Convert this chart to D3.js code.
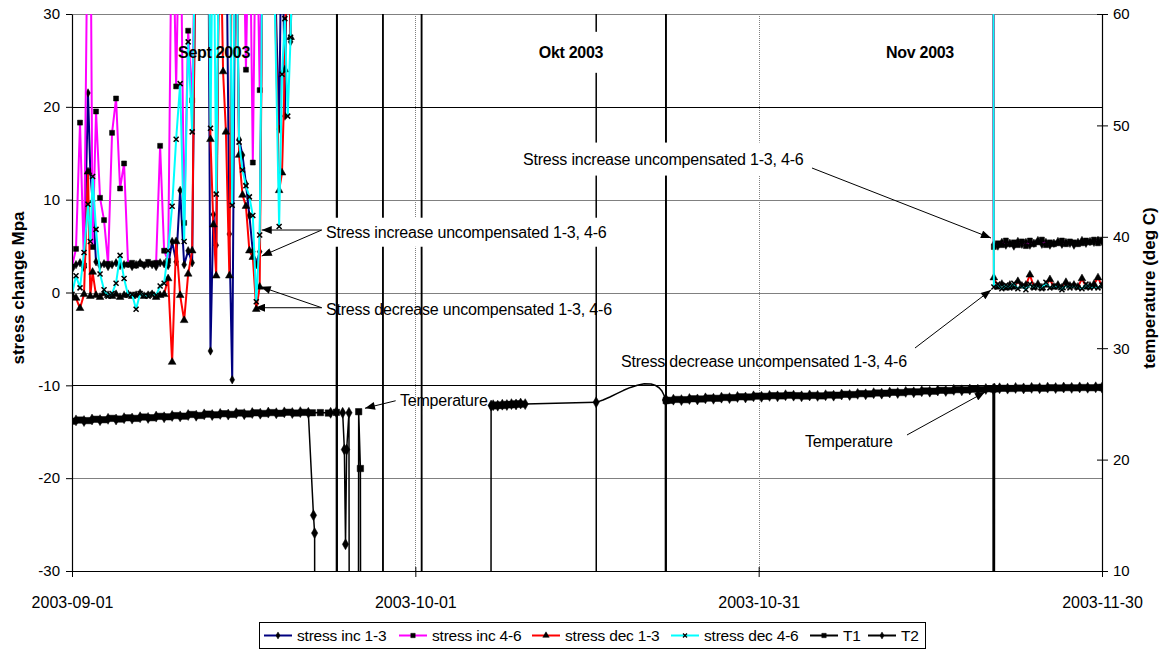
<!DOCTYPE html>
<html lang="en">
<head>
<meta charset="UTF-8">
<title>Stress change and temperature, Sept - Nov 2003</title>
<script src="https://cdn.jsdelivr.net/npm/d3@7"></script>
<style>
  body { margin: 0; background: #fff; }
  svg { font-family: "Liberation Sans", Arial, sans-serif; }
</style>
</head>
<body>
<svg id="chart" width="1163" height="652"></svg>
<script>
// ---- data (days after 2003-09-01, stress in MPa, temperature in deg C) ----
const dateTicks = ["2003-09-01", "2003-10-01", "2003-10-31", "2003-11-30"];
const stressTicks = [-30, -20, -10, 0, 10, 20, 30];
const tempTicks = [10, 20, 30, 40, 50, 60];

// stress gauges, september part (45 = off the top of the scale)
const sepDays = [0.00, 0.35, 0.70, 1.05, 1.40, 1.60, 1.80, 2.10, 2.45, 2.80, 3.15, 3.50, 3.85, 4.20, 4.55, 4.90,
  5.25, 5.60, 5.95, 6.30, 6.65, 7.00, 7.35, 7.70, 8.05, 8.40, 8.75, 9.10, 9.45, 9.80, 10.15, 10.50,
  10.85, 11.20, 11.55, 11.90, 12.10, 12.35, 12.60, 12.90, 13.20, 13.45, 13.75, 14.00, 14.30, 14.60,
  14.90, 15.20, 15.50, 15.80, 16.10, 16.40, 16.70, 17.50, 18.10, 18.35, 18.60, 18.85, 19.10, 19.40,
  50.00, 80.50];
const inc13Sep = [2.5, 3.0, 3.2, 2.7, 21.5, 13.0, 9.8, 3.3, 2.9, 3.1, 2.8, 3.0, 3.2, 2.9, 3.0, 3.1,
  2.8, 3.0, 3.2, 2.9, 3.1, 3.0, 2.8, 3.2, 3.1, 2.9, 5.5, 3.3, 11.0, 3.0, 4.5, 3.2,
  45, 45, 45, 45, -6.3, 8.4, 5.1, 45, 45, 45, 6.3, -9.4, 45, 16.5,
  14.8, 11.7, 8.3, 4.4, 3.0, 4.4, 45, 45, 17.6, 45, 19.0, 45, 27.0, 45,
  45, 45];
const inc46Sep = [2.8, 4.7, 18.3, 2.9, 45, 45, 4.9, 19.5, 10.2, 7.8, 3.1, 17.2, 20.9, 11.2, 13.9, 3.0,
  3.2, 2.9, 3.1, 3.0, 3.3, 3.1, 3.2, 15.8, 4.5, 3.4, 45, 22.2, 45, 7.5, 28.2, 20.7,
  45, 45, 45, 45, 45, 45, 45, 45, 45, 45, 45, 45, 45, 45,
  45, 24.0, 45, 14.0, 45, 21.8, 45, 45, 45, 45, 45, 45, 45, 45,
  45, 45];
const dec13Sep = [-0.3, -0.6, -1.7, -0.2, 13.0, -0.4, 2.2, -0.3, -0.5, -0.1, -0.3, -0.4, -0.2, -0.5, -0.3, -0.2,
  -0.4, -0.3, -0.1, -0.4, -0.3, -0.2, -0.5, -0.3, -0.2, 1.5, -7.5, 5.5, -0.3, -3.0, 2.0, 4.5,
  45, 45, 45, 45, 16.5, 7.3, 1.8, 45, 23.8, 17.3, 1.8, 45, 45, 14.8,
  10.5, 9.3, 4.5, 3.8, -1.8, 0.6, 45, 45, 11.0, 12.9, 24.0, 45, 27.5, 45,
  45, 45];
const dec46Sep = [-0.2, 1.8, 0.5, 4.3, 9.5, 5.5, 12.5, 6.8, 2.0, 0.3, -0.4, -0.1, 1.0, 4.0, 1.5, -0.3,
  -0.2, -1.8, -0.1, -0.3, -0.4, -0.2, -0.3, 0.7, 1.0, 4.5, 9.3, 16.5, 22.5, 5.5, 27.0, 17.3,
  45, 45, 45, 45, 17.7, 45, 10.6, 45, 45, 45, 45, 9.4, 45, 16.2,
  13.2, 11.5, 10.3, 8.3, -1.0, 6.2, 45, 45, 7.1, 23.5, 29.5, 19.0, 27.5, 45,
  45, 45];

// stress gauges, november part
const novDays = [80.55, 80.90, 81.25, 81.60, 81.95, 82.30, 82.65, 83.00, 83.35, 83.70, 84.05, 84.40, 84.75, 85.10,
  85.45, 85.80, 86.15, 86.50, 86.85, 87.20, 87.55, 87.90, 88.25, 88.60, 88.95, 89.30, 89.65, 90.00];
const inc13Nov = [5.2, 5.0, 5.4, 5.1, 5.3, 5.0, 5.5, 5.2, 5.4, 5.1, 5.3, 5.6, 5.2, 5.4,
  5.1, 5.3, 5.5, 5.2, 5.4, 5.3, 5.1, 5.4, 5.6, 5.3, 5.5, 5.4, 5.6, 5.5];
const inc46Nov = [4.9, 5.3, 5.1, 5.6, 5.2, 5.4, 5.1, 5.5, 5.0, 5.6, 5.2, 5.4, 5.7, 5.1,
  5.4, 5.2, 5.3, 5.6, 5.2, 5.5, 5.4, 5.2, 5.3, 5.6, 5.4, 5.7, 5.3, 5.6];
const dec13Nov = [1.6, 0.6, 0.9, 0.5, 0.8, 0.6, 1.2, 0.7, 0.8, 1.9, 0.6, 0.9, 0.5, 0.8,
  1.4, 0.6, 0.8, 0.5, 1.1, 0.7, 0.8, 0.6, 1.5, 0.6, 0.7, 0.9, 1.6, 0.7];
const dec46Nov = [0.6, 0.9, 0.4, 0.8, 0.5, 1.0, 0.4, 0.7, 0.3, 0.9, 0.5, 0.7, 0.4, 1.1,
  0.5, 0.7, 0.6, 0.3, 0.8, 0.5, 0.7, 0.5, 0.4, 0.9, 0.5, 0.6, 0.5, 0.8];

// temperature, continuous stretches (T2 logged half a step after T1)
const t1ADays = [0.0, 0.7, 1.4, 2.1, 2.8, 3.5, 4.2, 4.9, 5.6, 6.3, 7.0, 7.7, 8.4, 9.1, 9.8, 10.5,
  11.2, 11.9, 12.6, 13.3, 14.0, 14.7, 15.4, 16.1, 16.8, 17.5, 18.2, 18.9, 19.6, 20.3, 21.0];
const t1BandA = [23.45, 23.55, 23.50, 23.62, 23.58, 23.70, 23.64, 23.75, 23.70, 23.82, 23.76, 23.88, 23.84, 23.95, 23.90, 24.05,
  23.96, 24.08, 24.02, 24.12, 24.06, 24.18, 24.10, 24.20, 24.14, 24.22, 24.16, 24.25, 24.18, 24.24, 24.20];
const t2ADays = [0.35, 1.05, 1.75, 2.45, 3.15, 3.85, 4.55, 5.25, 5.95, 6.65, 7.35, 8.05, 8.75, 9.45, 10.15,
  10.85, 11.55, 12.25, 12.95, 13.65, 14.35, 15.05, 15.75, 16.45, 17.15, 17.85, 18.55, 19.25, 19.95, 20.65];
const t2BandA = [23.52, 23.46, 23.60, 23.54, 23.66, 23.60, 23.72, 23.68, 23.80, 23.74, 23.86, 23.80, 23.92, 23.88, 24.00,
  23.94, 24.06, 24.00, 24.10, 24.04, 24.16, 24.08, 24.18, 24.12, 24.22, 24.16, 24.24, 24.18, 24.26, 24.20];
const bandBDays = [36.8, 37.2, 37.6, 38.0, 38.4, 38.8, 39.2];
const t1BandB = [24.82, 24.90, 24.86, 24.95, 24.92, 25.00, 24.98];
const t2BandB = [24.88, 24.84, 24.93, 24.90, 24.98, 24.95, 25.03];
const t1CDays = [52.2, 52.9, 53.6, 54.3, 55.0, 55.7, 56.4, 57.1, 57.8, 58.5, 59.2, 59.9, 60.6, 61.3,
  62.0, 62.7, 63.4, 64.1, 64.8, 65.5, 66.2, 66.9, 67.6, 68.3, 69.0, 69.7, 70.4, 71.1, 71.8, 72.5,
  73.2, 73.9, 74.6, 75.3, 76.0, 76.7, 77.4, 78.1, 78.8, 79.5, 80.2];
const t1BandC = [25.32, 25.40, 25.38, 25.46, 25.44, 25.52, 25.50, 25.58, 25.56, 25.64, 25.62, 25.70, 25.68, 25.74,
  25.72, 25.78, 25.74, 25.70, 25.76, 25.72, 25.80, 25.78, 25.86, 25.84, 25.92, 25.90, 25.98, 25.96, 26.04, 26.02,
  26.10, 26.08, 26.16, 26.14, 26.22, 26.20, 26.28, 26.26, 26.32, 26.30, 26.36];
const t2CDays = [52.55, 53.25, 53.95, 54.65, 55.35, 56.05, 56.75, 57.45, 58.15, 58.85, 59.55, 60.25, 60.95, 61.65,
  62.35, 63.05, 63.75, 64.45, 65.15, 65.85, 66.55, 67.25, 67.95, 68.65, 69.35, 70.05, 70.75, 71.45, 72.15, 72.85,
  73.55, 74.25, 74.95, 75.65, 76.35, 77.05, 77.75, 78.45, 79.15, 79.85];
const t2BandC = [25.38, 25.34, 25.44, 25.40, 25.50, 25.46, 25.56, 25.52, 25.62, 25.58, 25.68, 25.64, 25.72, 25.68,
  25.78, 25.74, 25.68, 25.76, 25.72, 25.78, 25.74, 25.84, 25.80, 25.90, 25.86, 25.96, 25.92, 26.02, 25.98, 26.08,
  26.04, 26.14, 26.10, 26.20, 26.16, 26.26, 26.22, 26.30, 26.28, 26.34];
const t1DDays = [80.7, 81.4, 82.1, 82.8, 83.5, 84.2, 84.9, 85.6, 86.3, 87.0, 87.7, 88.4, 89.1, 89.8, 90.0];
const t1BandD = [26.36, 26.40, 26.38, 26.42, 26.40, 26.44, 26.41, 26.45, 26.43, 26.46, 26.44, 26.47, 26.45, 26.48, 26.47];
const t2DDays = [81.05, 81.75, 82.45, 83.15, 83.85, 84.55, 85.25, 85.95, 86.65, 87.35, 88.05, 88.75, 89.45, 90.0];
const t2BandD = [26.40, 26.37, 26.43, 26.39, 26.44, 26.41, 26.46, 26.42, 26.47, 26.44, 26.48, 26.45, 26.49, 26.46];

// temperature, dropouts (+-100 = sensor off scale, null = no reading)
const t1GapDays = [21.7, 22.4, 23.1, 23.16, 23.17, 23.18, 24.9, 25.05, 25.2, 25.35, 25.4, 27.16, 27.18, 27.2, 30.54, 30.56, 30.58];
const t1GapTemp = [24.22, 24.18, 24.24, 100, -100, null, -100, 24.3, 19.2, -100, null, 100, -100, null, 100, -100, null];
const t1MidDays = [39.3, 45.8, 45.82, 45.84, 51.88, 51.9, 51.92];
const t1MidTemp = [null, 100, -100, null, 100, -100, 25.3];
const t1DropDays = [80.5, 80.55, 80.6];
const t1DropTemp = [26.35, -100, 26.36];

const t2GapDays = [21.1, 21.2, 21.3, 21.35, 22.6, 23.1, 23.16, 23.17, 23.18, 23.65, 23.8, 23.9, 24.0, 24.2, 24.35, 24.4,
  27.16, 27.18, 27.2, 30.54, 30.56, 30.58, 36.58, 36.62];
const t2GapTemp = [15.0, 13.4, -100, null, 24.2, 24.26, -100, 100, null, 24.2, 20.9, 12.4, 20.9, 24.2, -100, null,
  100, -100, null, 100, -100, null, -100, 24.85];
const t2MidDays = [39.6, 45.8, 51.85, 51.88, 51.9, 51.92];
const t2MidTemp = [24.98, 25.14, 25.35, -100, 100, 25.35];
// smoothed stretch of T2 in early October (drawn without markers)
const t2CurveDays = [46.4, 47.0, 47.6, 48.2, 48.8, 49.4, 50.0, 50.6, 51.0, 51.3, 51.55, 51.72];
const t2CurveTemp = [25.35, 25.62, 25.92, 26.22, 26.48, 26.68, 26.8, 26.78, 26.65, 26.45, 26.15, 25.8];
const t2DropDays = [80.5, 80.55, 80.6];
const t2DropTemp = [26.33, -100, 26.38];

// ---- setup ----
const START = new Date(2003, 8, 1);
const END = new Date(2003, 10, 30);
const atDay = d => new Date(START.getTime() + d * 864e5);
const parse = d3.timeParse("%Y-%m-%d");

const x = d3.scaleTime().domain([START, END]).range([72, 1102]);
const yL = d3.scaleLinear().domain([-30, 30]).range([571, 14]);
const yR = d3.scaleLinear().domain([10, 60]).range([571, 14]);

const svg = d3.select("#chart");
const defs = svg.append("defs");
defs.append("clipPath").attr("id", "plotClip").append("rect")
  .attr("x", 72).attr("y", 14).attr("width", 1030).attr("height", 557);
defs.append("marker").attr("id", "arrowHead")
  .attr("viewBox", "0 0 10 8").attr("refX", 10).attr("refY", 4)
  .attr("markerWidth", 11).attr("markerHeight", 8)
  .attr("markerUnits", "userSpaceOnUse").attr("orient", "auto")
  .append("path").attr("d", "M0,0L10,4L0,8Z").attr("fill", "#000");

const crisp = v => Math.round(v) + 0.5;

// horizontal grid
const gridColor = { "30": "#808080", "20": "#000", "10": "#808080", "0": "#808080", "-10": "#000", "-20": "#808080" };
svg.append("g").selectAll("line")
  .data(stressTicks.filter(v => v > -30))
  .join("line")
  .attr("x1", 72).attr("x2", 1102)
  .attr("y1", d => crisp(yL(d))).attr("y2", d => crisp(yL(d)))
  .attr("stroke", d => gridColor[String(d)]).attr("stroke-width", 1);

// dotted vertical grid at the inner date ticks
svg.append("g").selectAll("line")
  .data(dateTicks.slice(1, 3).map(parse))
  .join("line")
  .attr("x1", d => crisp(x(d))).attr("x2", d => crisp(x(d)))
  .attr("y1", 14).attr("y2", 571)
  .attr("stroke", "#808080").attr("stroke-dasharray", "1,1");

// ---- series ----
function pts(days, vals, noMarker) {
  return days.map((d, i) => ({ t: atDay(d), v: vals[i], noMarker: !!noMarker }));
}
function symbolPath(shape, s) {
  if (shape === "x") return `M${-s},${-s}L${s},${s}M${-s},${s}L${s},${-s}`;
  if (shape === "square") return d3.symbol(d3.symbolSquare, s * s * 4)();
  if (shape === "diamond") return d3.symbol(d3.symbolDiamond, s * s * 3)();
  return d3.symbol(d3.symbolTriangle, s * s * 3.6)();
}

const stressDays = sepDays.concat(novDays);
const series = [
  { name: "stress inc 1-3", color: "#000080", width: 2, shape: "diamond", ms: 2.6, y: yL,
    data: pts(stressDays, inc13Sep.concat(inc13Nov)) },
  { name: "stress inc 4-6", color: "#ff00ff", width: 2, shape: "square", ms: 2.5, y: yL,
    data: pts(stressDays, inc46Sep.concat(inc46Nov)) },
  { name: "stress dec 1-3", color: "#ff0000", width: 2, shape: "triangle", ms: 2.7, y: yL,
    data: pts(stressDays, dec13Sep.concat(dec13Nov)) },
  { name: "stress dec 4-6", color: "#00ffff", width: 2, shape: "x", ms: 2.5, y: yL,
    data: pts(stressDays, dec46Sep.concat(dec46Nov)) },
  { name: "T1", color: "#000", width: 1.5, shape: "square", ms: 3.2, y: yR,
    data: [].concat(pts(t1ADays, t1BandA), pts(t1GapDays, t1GapTemp), pts(bandBDays, t1BandB),
      pts(t1MidDays, t1MidTemp), pts(t1CDays, t1BandC), pts(t1DropDays, t1DropTemp), pts(t1DDays, t1BandD)) },
  { name: "T2", color: "#000", width: 1.5, shape: "diamond", ms: 3.4, y: yR,
    data: d3.sort([].concat(pts(t2ADays, t2BandA), pts(t2GapDays, t2GapTemp), pts(bandBDays, t2BandB),
      pts(t2MidDays, t2MidTemp), pts(t2CurveDays, t2CurveTemp, true), pts(t2CDays, t2BandC),
      pts(t2DropDays, t2DropTemp), pts(t2DDays, t2BandD)), d => d.t) }
];

const plotG = svg.append("g").attr("clip-path", "url(#plotClip)");
series.forEach(s => {
  const line = d3.line()
    .defined(d => d.v !== null)
    .x(d => x(d.t))
    .y(d => s.y(d.v));
  plotG.append("path")
    .datum(s.data)
    .attr("d", line)
    .attr("fill", "none")
    .attr("stroke", s.color)
    .attr("stroke-width", s.width)
    .attr("stroke-linejoin", "round");
  const [lo, hi] = s.y.domain();
  plotG.append("g").selectAll("path")
    .data(s.data.filter(d => d.v !== null && !d.noMarker && d.v >= lo - 1 && d.v <= hi + 1))
    .join("path")
    .attr("transform", d => `translate(${x(d.t)},${s.y(d.v)})`)
    .attr("d", symbolPath(s.shape, s.ms))
    .attr("fill", s.shape === "x" ? "none" : "#000")
    .attr("stroke", "#000")
    .attr("stroke-width", s.shape === "x" ? 1.5 : 0.5);
});

// ---- annotations (positions in day / stress units) ----
const notes = [
  { text: "Sept 2003", day: 12.41, v: 25.9, bold: true, anchor: "middle" },
  { text: "Okt 2003", day: 43.6, v: 25.9, bold: true, anchor: "middle", pad: [10, 12] },
  { text: "Nov 2003", day: 74.1, v: 25.9, bold: true, anchor: "middle", pad: [10, 12] },
  { text: "Stress increase uncompensated 1-3, 4-6", day: 22.19, v: 6.52, pad: [4, 6] },
  { text: "Stress decrease uncompensated 1-3, 4-6", day: 22.19, v: -1.78 },
  { text: "Temperature", day: 28.66, v: -11.58 },
  { text: "Stress increase uncompensated 1-3, 4-6", day: 39.41, v: 14.4, pad: [5, 8] },
  { text: "Stress decrease uncompensated 1-3, 4-6", day: 47.97, v: -7.45 },
  { text: "Temperature", day: 64.05, v: -16.07 }
];
const arrows = [
  [21.82, 6.73, 16.58, 6.73], [21.82, 6.73, 16.58, 3.93],
  [21.82, -1.64, 16.49, 0.62], [21.82, -1.64, 15.99, -1.64],
  [28.28, -11.66, 25.6, -12.47],
  [64.66, 13.41, 80.3, 5.87],
  [73.66, -5.98, 80.3, 0.27],
  [72.96, -15.35, 79.78, -10.72]
];

const noteG = svg.append("g");
notes.forEach(n => {
  const g = noteG.append("g");
  const t = g.append("text")
    .attr("x", x(atDay(n.day)))
    .attr("y", yL(n.v))
    .attr("dy", "0.36em")
    .attr("text-anchor", n.anchor || "start")
    .attr("font-size", 16)
    .attr("font-weight", n.bold ? "bold" : "normal")
    .attr("letter-spacing", n.bold ? -0.3 : -0.2)
    .attr("fill", "#000")
    .text(n.text);
  if (n.pad) {
    const b = t.node().getBBox();
    g.insert("rect", "text")
      .attr("x", b.x - n.pad[0]).attr("y", b.y - n.pad[1])
      .attr("width", b.width + 2 * n.pad[0]).attr("height", b.height + 2 * n.pad[1])
      .attr("fill", "#fff");
  }
});
noteG.selectAll("line.arrow")
  .data(arrows)
  .join("line")
  .attr("class", "arrow")
  .attr("x1", d => x(atDay(d[0]))).attr("y1", d => yL(d[1]))
  .attr("x2", d => x(atDay(d[2]))).attr("y2", d => yL(d[3]))
  .attr("stroke", "#000").attr("stroke-width", 1)
  .attr("marker-end", "url(#arrowHead)");

// ---- axes ----
const axL = svg.append("g").attr("transform", "translate(72,0)")
  .call(d3.axisLeft(yL).tickValues(stressTicks).tickFormat(d => String(d)).tickSize(6).tickSizeOuter(0).tickPadding(6));
const axR = svg.append("g").attr("transform", "translate(1102,0)")
  .call(d3.axisRight(yR).tickValues(tempTicks).tickFormat(d => String(d)).tickSize(6).tickSizeOuter(0).tickPadding(5));
axR.selectAll(".tick line").attr("x1", -5);
const axB = svg.append("g").attr("transform", "translate(0,571)")
  .call(d3.axisBottom(x).tickValues(dateTicks.map(parse)).tickFormat(d3.timeFormat("%Y-%m-%d"))
    .tickSize(6).tickSizeOuter(0).tickPadding(20));
axB.selectAll(".tick line").attr("y1", -4);
[axL, axR, axB].forEach(a => {
  a.attr("font-family", null).attr("font-size", 15);
  a.select(".domain").attr("stroke", "#000").attr("stroke-width", 1.2);
  a.selectAll(".tick line").attr("stroke", "#000");
  a.selectAll(".tick text").attr("fill", "#000");
});
axB.attr("font-size", 16);

// axis titles
svg.append("text")
  .attr("transform", "translate(18,288) rotate(-90)")
  .attr("text-anchor", "middle").attr("dy", "0.36em")
  .attr("font-size", 17).attr("font-weight", "bold")
  .text("stress change Mpa");
svg.append("text")
  .attr("transform", "translate(1149,288) rotate(-90)")
  .attr("text-anchor", "middle").attr("dy", "0.36em")
  .attr("font-size", 17).attr("font-weight", "bold")
  .text("temperature (deg C)");

// ---- legend ----
const legendX = [264, 399, 532, 671, 810, 868];
const legend = svg.append("g");
legend.append("rect")
  .attr("x", 259.5).attr("y", 622.5).attr("width", 666).attr("height", 26)
  .attr("fill", "#fff").attr("stroke", "#000");
series.forEach((s, i) => {
  const lx = legendX[i];
  legend.append("line")
    .attr("x1", lx).attr("x2", lx + 28).attr("y1", 635.5).attr("y2", 635.5)
    .attr("stroke", s.color).attr("stroke-width", 2);
  legend.append("path")
    .attr("transform", `translate(${lx + 14},635.5)`)
    .attr("d", symbolPath(s.shape, s.shape === "x" ? 2 : 2.2))
    .attr("fill", s.shape === "x" ? "none" : "#000")
    .attr("stroke", "#000").attr("stroke-width", s.shape === "x" ? 1.3 : 0.5);
  legend.append("text")
    .attr("x", lx + 33).attr("y", 635.5).attr("dy", "0.36em")
    .attr("font-size", 15.5).attr("letter-spacing", -0.2)
    .text(s.name);
});
</script>
</body>
</html>
